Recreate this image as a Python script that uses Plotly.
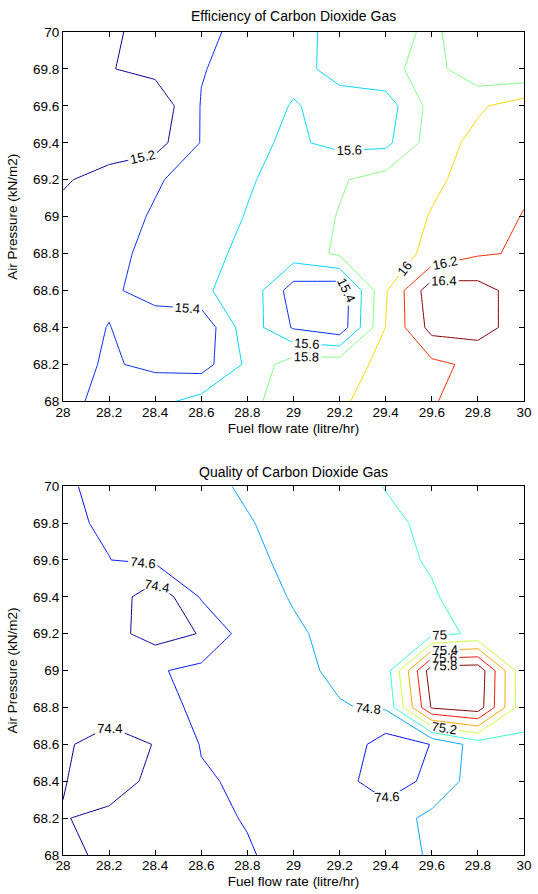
import plotly.graph_objects as go

# ---- data (grid nodes) ----
fuel_flow = [28.0, 28.2, 28.4, 28.6, 28.8, 29.0, 29.2, 29.4, 29.6, 29.8, 30.0]
air_pressure = [68.0, 68.2, 68.4, 68.6, 68.8, 69.0, 69.2, 69.4, 69.6, 69.8, 70.0]

# rows: air pressure 68.0 -> 70.0, columns: fuel flow 28.0 -> 30.0
efficiency = [
    [15.35, 15.455, 15.54, 15.673, 15.765, 15.87, 15.975, 16.08, 16.185, 16.29, 16.35],
    [15.34, 15.42, 15.36, 15.31, 15.64, 15.91, 15.93, 16.04, 16.15, 16.25, 16.30],
    [15.33, 15.405, 15.30, 15.25, 15.72, 15.38, 15.27, 16.005, 16.47, 16.48, 16.30],
    [15.30, 15.37, 15.47, 15.55, 15.75, 15.30, 15.255, 15.98, 16.53, 16.48, 16.30],
    [15.28, 15.35, 15.45, 15.52, 15.66, 15.70, 15.83, 15.92, 16.04, 16.18, 16.22],
    [15.25, 15.32, 15.42, 15.50, 15.61, 15.70, 15.81, 15.90, 16.01, 16.10, 16.21],
    [15.18, 15.27, 15.38, 15.48, 15.58, 15.68, 15.78, 15.88, 15.97, 16.06, 16.16],
    [15.10, 15.10, 15.12, 15.41, 15.56, 15.63, 15.55, 15.55, 15.896, 16.06, 16.12],
    [15.08, 15.08, 15.05, 15.41, 15.52, 15.61, 15.55, 15.50, 15.87, 15.97, 16.10],
    [15.05, 15.19, 15.26, 15.39, 15.47, 15.56, 15.64, 15.75, 15.875, 15.65, 15.62],
    [15.10, 15.18, 15.243, 15.32, 15.50, 15.56, 15.636, 15.72, 15.84, 15.66, 15.64],
]

quality = [
    [74.33, 74.46, 74.49, 74.53, 74.585, 74.66, 74.69, 74.72, 74.82, 74.88, 74.90],
    [74.39, 74.45, 74.50, 74.56, 74.61, 74.65, 74.69, 74.70, 74.85, 74.90, 74.93],
    [74.41, 74.30, 74.454, 74.58, 74.63, 74.66, 74.667, 74.50, 74.65, 74.90, 74.95],
    [74.42, 74.34, 74.405, 74.61, 74.66, 74.70, 74.74, 74.506, 74.605, 74.895, 74.98],
    [74.45, 74.464, 74.55, 74.63, 74.68, 74.74, 74.79, 74.82, 75.82, 75.91, 75.04],
    [74.47, 74.52, 74.58, 74.65, 74.72, 74.76, 74.83, 74.90, 75.92, 75.94, 75.03],
    [74.48, 74.47, 74.32, 74.41, 74.70, 74.78, 74.84, 74.89, 74.95, 75.03, 75.08],
    [74.52, 74.55, 74.25, 74.62, 74.74, 74.81, 74.87, 74.93, 74.99, 75.05, 75.11],
    [74.55, 74.598, 74.64, 74.68, 74.76, 74.84, 74.90, 74.97, 75.01, 75.07, 75.13],
    [74.58, 74.615, 74.67, 74.73, 74.79, 74.85, 74.91, 74.97, 75.03, 75.09, 75.15],
    [74.58, 74.64, 74.70, 74.76, 74.82, 74.88, 74.94, 75.005, 75.06, 75.12, 75.18],
]

# contour levels and their (MATLAB jet) line colours
eff_levels = [15.2, 15.4, 15.6, 15.8, 16.0, 16.2, 16.4]
eff_colors = ["#00008F", "#002AFF", "#00D5FF", "#80FF80", "#FFD500", "#FF2A00", "#800000"]
qual_levels = [74.4, 74.6, 74.8, 75.0, 75.2, 75.4, 75.6, 75.8]
qual_colors = ["#00008F", "#0012FF", "#00A4FF", "#36FFC9", "#C9FF36", "#FFA400", "#FF1200", "#800000"]

x_ticks = [28, 28.2, 28.4, 28.6, 28.8, 29, 29.2, 29.4, 29.6, 29.8, 30]
y_ticks = [68, 68.2, 68.4, 68.6, 68.8, 69, 69.2, 69.4, 69.6, 69.8, 70]

FONT = "Liberation Sans, Arial, Helvetica, sans-serif"

fig = go.Figure()


def add_levels(z, levels, colors, xa, ya):
    for lev, col in zip(levels, colors):
        fig.add_trace(go.Contour(
            x=fuel_flow, y=air_pressure, z=z,
            contours=dict(coloring="none", start=lev, end=lev, size=0.2,
                          showlabels=True,
                          labelfont=dict(size=13, color="black", family=FONT)),
            line=dict(width=1, color=col, smoothing=0),
            showscale=False, xaxis=xa, yaxis=ya, hoverinfo="skip",
        ))


add_levels(efficiency, eff_levels, eff_colors, "x", "y")
add_levels(quality, qual_levels, qual_colors, "x2", "y2")

axis_common = dict(
    showline=True, linecolor="black", linewidth=1, mirror="ticks",
    ticks="inside", ticklen=5, tickcolor="black", tickwidth=1,
    showgrid=False, zeroline=False, ticklabeloverflow="allow",
    tickfont=dict(size=13.5, color="black", family=FONT),
)
x_common = dict(range=[28, 30.0001], tickvals=x_ticks,
                ticktext=[str(v) for v in x_ticks], ticklabelstandoff=-2)
y_common = dict(range=[68, 70.0001], tickvals=y_ticks,
                ticktext=[str(v) for v in y_ticks])

fig.update_layout(
    width=538, height=894,
    margin=dict(l=63, r=7, t=32, b=37),
    paper_bgcolor="white", plot_bgcolor="white",
    showlegend=False,
    font=dict(family=FONT, color="black", size=13),
    xaxis=dict(domain=[0, 1], anchor="y",
               title=dict(text="Fuel flow rate (litre/hr)", standoff=4,
                          font=dict(size=13.5, color="black", family=FONT)),
               **x_common, **axis_common),
    yaxis=dict(domain=[0.5512, 1.0], anchor="x",
               title=dict(text="Air Pressure (kN/m2)", standoff=12,
                          font=dict(size=13.5, color="black", family=FONT)),
               **y_common, **axis_common),
    xaxis2=dict(domain=[0, 1], anchor="y2",
                title=dict(text="Fuel flow rate (litre/hr)", standoff=4,
                           font=dict(size=13.5, color="black", family=FONT)),
                **x_common, **axis_common),
    yaxis2=dict(domain=[0.0, 0.4481], anchor="x2",
                title=dict(text="Air Pressure (kN/m2)", standoff=12,
                           font=dict(size=13.5, color="black", family=FONT)),
                **y_common, **axis_common),
    annotations=[
        dict(text="Efficiency of Carbon Dioxide Gas", xref="paper", yref="paper",
             x=0.5, y=1.019, xanchor="center", yanchor="middle", showarrow=False,
             font=dict(size=14, color="black", family=FONT)),
        dict(text="Quality of Carbon Dioxide Gas", xref="paper", yref="paper",
             x=0.5, y=0.4658, xanchor="center", yanchor="middle", showarrow=False,
             font=dict(size=14, color="black", family=FONT)),
    ],
)

fig.write_html("out.html", config={"displayModeBar": False},
               post_script="document.body.style.margin='0';document.body.style.overflow='hidden';")
